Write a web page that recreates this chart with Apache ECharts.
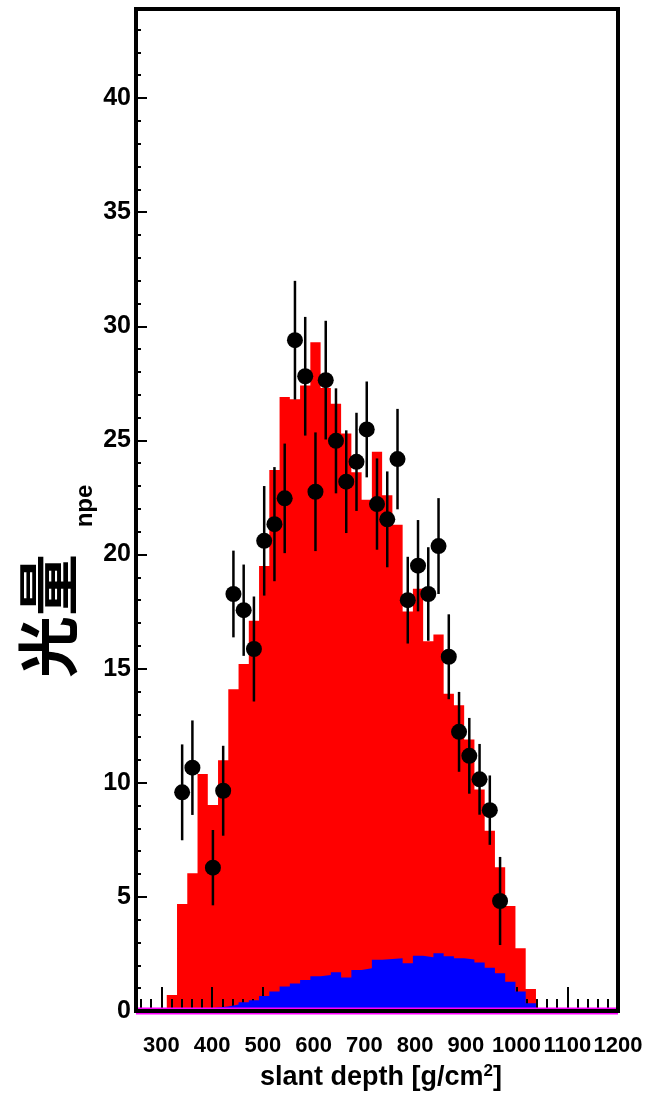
<!DOCTYPE html>
<html>
<head>
<meta charset="utf-8">
<script src="https://cdn.jsdelivr.net/npm/echarts@6/dist/echarts.min.js"></script>
<style>
  html, body { margin: 0; padding: 0; background: #ffffff; }
  #chart { width: 646px; height: 1099px; }
</style>
</head>
<body>
<div id="chart"></div>
<script>
// Histogram binning: 47 bins of 20 g/cm^2 starting at 250
const BIN_START = 250;
const BIN_WIDTH = 20;

// Simulated light yield (red), per bin
const simCounts = [
  0, 0, 0, 0.7, 4.69, 6.03, 10.38, 9.02, 10.99, 14.1,
  15.2, 17.1, 19.5, 23.7, 26.9, 26.8, 27.4, 29.3, 27.3, 26.6,
  25.3, 23.6, 22.4, 24.5, 22.6, 21.3, 17.5, 18.5, 16.2, 16.5,
  13.9, 13.4, 11.9, 9.7, 7.9, 6.3, 4.6, 2.75, 0.96, 0,
  0, 0, 0, 0, 0, 0, 0
];

// Second simulated component (blue), per bin
const bgCounts = [
  0, 0, 0, 0, 0, 0.05, 0.1, 0.15, 0.2, 0.28,
  0.38, 0.47, 0.66, 0.85, 1.07, 1.21, 1.36, 1.52, 1.58, 1.7,
  1.47, 1.8, 1.87, 2.24, 2.28, 2.31, 2.09, 2.42, 2.35, 2.53,
  2.4, 2.31, 2.26, 2.12, 1.9, 1.65, 1.28, 0.85, 0.34, 0,
  0, 0, 0, 0, 0, 0, 0
];

// Third component (magenta), per bin
const flatCounts = [
  0, 0, 0, 0, 0, 0, 0, 0, 0, 0,
  0, 0, 0, 0, 0, 0, 0, 0, 0, 0,
  0, 0, 0, 0, 0, 0, 0, 0, 0, 0,
  0, 0, 0, 0, 0, 0, 0, 0, 0, 0,
  0, 0, 0, 0, 0, 0, 0
];

// Measured points: bin centre, value, error
const dataDepth = [340, 360, 400, 420, 440, 460, 480, 500, 520, 540,
                   560, 580, 600, 620, 640, 660, 680, 700, 720, 740,
                   760, 780, 800, 820, 840, 860, 880, 900, 920, 940, 960];
const dataNpe = [9.58, 10.66, 6.28, 9.65, 18.27, 17.56, 15.86, 20.6, 21.33, 22.46,
                 29.39, 27.81, 22.75, 27.64, 24.98, 23.19, 24.06, 25.48, 22.21, 21.54,
                 24.18, 18.0, 19.51, 18.27, 20.37, 15.52, 12.23, 11.18, 10.15, 8.8, 4.82];
const dataErr = [2.1, 2.07, 1.65, 1.97, 1.9, 2.0, 2.3, 2.4, 2.5, 2.4,
                 2.6, 2.6, 2.6, 2.6, 2.3, 2.25, 2.15, 2.1, 2.0, 2.1,
                 2.2, 1.9, 2.0, 2.05, 2.1, 1.86, 1.75, 1.66, 1.55, 1.52, 1.93];

// Axis tick labels
const xLabelTicks = [300, 400, 500, 600, 700, 800, 900, 1000, 1100, 1200];
const xMinorTicks = [];
for (let v = 260; v < 1200; v += 20) {
  if (v % 100 !== 0) xMinorTicks.push(v);
}

const FONT = '"Liberation Sans", Arial, Helvetica, sans-serif';

function stepData(counts) {
  const pts = counts.map((v, i) => [BIN_START + i * BIN_WIDTH, v]);
  pts.push([BIN_START + counts.length * BIN_WIDTH, counts[counts.length - 1]]);
  return pts;
}

function histSeries(counts, color, z) {
  return {
    type: 'line',
    xAxisIndex: 0,
    yAxisIndex: 0,
    step: 'end',
    symbol: 'none',
    z: z,
    silent: true,
    lineStyle: { width: 0 },
    areaStyle: { color: color, opacity: 1 },
    data: stepData(counts)
  };
}

const chart = echarts.init(document.getElementById('chart'), null, { renderer: 'canvas' });

chart.setOption({
  animation: false,
  backgroundColor: '#ffffff',
  grid: {
    left: 136, top: 9, width: 482, height: 1002,
    show: true, borderColor: '#000000', borderWidth: 4,
    backgroundColor: 'rgba(0,0,0,0)', z: 10,
    containLabel: false, outerBoundsMode: 'none'
  },
  xAxis: [
    { // scale used by all series
      type: 'value', min: 250, max: 1190, position: 'bottom', show: false,
      axisLine: { onZero: false }
    },
    { // labelled ticks every 100
      type: 'value', min: 250, max: 1200, position: 'bottom', z: 2,
      axisLine: { show: false, onZero: false },
      splitLine: { show: false },
      axisTick: { show: true, inside: true, length: 24, customValues: xLabelTicks,
                  lineStyle: { color: '#000', width: 2 } },
      axisLabel: { show: true, customValues: xLabelTicks, margin: 24, color: '#000',
                   fontFamily: FONT, fontWeight: 'bold', fontSize: 22,
                   showMinLabel: true, showMaxLabel: true, hideOverlap: false,
                   formatter: function (v) { return String(v); } }
    },
    { // minor ticks every 20
      type: 'value', min: 250, max: 1200, position: 'bottom', z: 2,
      axisLine: { show: false, onZero: false },
      splitLine: { show: false },
      axisTick: { show: true, inside: true, length: 12, customValues: xMinorTicks,
                  lineStyle: { color: '#000', width: 2 } },
      axisLabel: { show: false }
    }
  ],
  yAxis: [
    {
      type: 'value', min: 0, max: 43.9, interval: 5, position: 'left', z: 7,
      axisLine: { show: false, onZero: false },
      splitLine: { show: false },
      axisTick: { show: true, inside: true, length: 11, lineStyle: { color: '#000', width: 2 } },
      axisLabel: { show: true, margin: 5, color: '#000', fontFamily: FONT,
                   fontWeight: 'bold', fontSize: 25, showMaxLabel: false }
    },
    {
      type: 'value', min: 0, max: 43.9, interval: 1, position: 'left', z: 7,
      axisLine: { show: false, onZero: false },
      splitLine: { show: false },
      axisTick: { show: true, inside: true, length: 5, lineStyle: { color: '#000', width: 2 } },
      axisLabel: { show: false }
    }
  ],
  graphic: [
    {
      type: 'text', x: 48, y: 616, rotation: Math.PI / 2, z: 20,
      style: {
        text: '光量', fill: '#000',
        font: 'bold 62px "Noto Sans CJK SC", "Noto Sans CJK JP", sans-serif',
        align: 'center', verticalAlign: 'middle',
        textAlign: 'center', textVerticalAlign: 'middle'
      }
    },
    {
      type: 'text', x: 85, y: 506, rotation: Math.PI / 2, z: 20,
      style: {
        text: 'npe', fill: '#000',
        font: 'bold 24px ' + FONT,
        align: 'center', verticalAlign: 'middle',
        textAlign: 'center', textVerticalAlign: 'middle'
      }
    },
    {
      type: 'text', x: 381, y: 1078, z: 20,
      style: {
        text: '{a|slant depth [g/cm}{s|2}{a|]}',
        fill: '#000',
        align: 'center', verticalAlign: 'middle',
        textAlign: 'center', textVerticalAlign: 'middle',
        rich: {
          a: { fontFamily: FONT, fontWeight: 'bold', fontSize: 27, lineHeight: 30, fill: '#000' },
          s: { fontFamily: FONT, fontWeight: 'bold', fontSize: 17, lineHeight: 17,
               verticalAlign: 'top', fill: '#000' }
        }
      }
    }
  ],
  series: [
    histSeries(simCounts, '#ff0000', 1),
    histSeries(bgCounts, '#0000ff', 3),
    {
      type: 'line',
      xAxisIndex: 0, yAxisIndex: 0,
      step: 'end', symbol: 'none', z: 4, silent: true, clip: false,
      lineStyle: { color: '#ff00ff', width: 7 },
      data: stepData(flatCounts)
    },
    {
      type: 'custom',
      xAxisIndex: 0, yAxisIndex: 0, z: 5, silent: true,
      renderItem: function (params, api) {
        const x = api.value(0);
        const p1 = api.coord([x, api.value(1)]);
        const p2 = api.coord([x, api.value(2)]);
        return {
          type: 'line',
          shape: { x1: p1[0], y1: p1[1], x2: p2[0], y2: p2[1] },
          style: { stroke: '#000', lineWidth: 2.5 }
        };
      },
      encode: { x: 0, y: [1, 2] },
      data: dataDepth.map((d, i) => [d, dataNpe[i] - dataErr[i], dataNpe[i] + dataErr[i]])
    },
    {
      type: 'scatter',
      xAxisIndex: 0, yAxisIndex: 0, z: 6, silent: true,
      symbol: 'circle', symbolSize: 16,
      itemStyle: { color: '#000', opacity: 1 },
      data: dataDepth.map((d, i) => [d, dataNpe[i]])
    }
  ]
});
</script>
</body>
</html>
